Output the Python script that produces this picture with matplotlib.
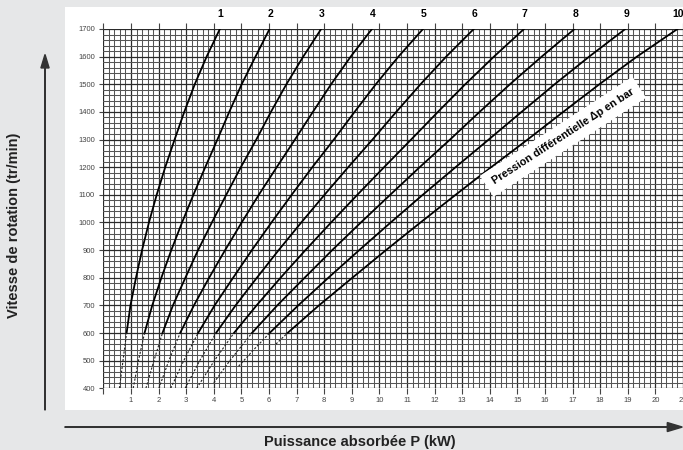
import numpy as np
import matplotlib.pyplot as plt
from matplotlib.patches import Rectangle, FancyArrow

plt.rcParams['font.family'] = ['Liberation Sans', 'DejaVu Sans']

# differential pressure of each curve (bar)
dp_labels = ["1", "2", "3", "4", "5", "6", "7", "8", "9", "10"]

# solid part of the curves: speed (tr/min) -> power (kW)
rpm_solid = [600, 700, 800, 900, 1000, 1100, 1200, 1300, 1400, 1500, 1600, 1700]
kw_1 = [0.84, 0.98, 1.18, 1.40, 1.65, 1.93, 2.24, 2.58, 2.93, 3.31, 3.74, 4.22]
kw_2 = [1.49, 1.77, 2.10, 2.46, 2.85, 3.26, 3.69, 4.13, 4.56, 5.01, 5.51, 6.02]
kw_3 = [2.14, 2.52, 2.97, 3.43, 3.93, 4.45, 4.98, 5.54, 6.07, 6.63, 7.24, 7.89]
kw_4 = [2.78, 3.28, 3.83, 4.41, 5.01, 5.63, 6.28, 6.94, 7.59, 8.25, 8.96, 9.73]
kw_5 = [3.43, 4.03, 4.70, 5.38, 6.09, 6.82, 7.57, 8.35, 9.10, 9.87, 10.69, 11.58]
kw_6 = [4.08, 4.79, 5.56, 6.35, 7.17, 8.01, 8.87, 9.75, 10.61, 11.49, 12.42, 13.42]
kw_7 = [4.73, 5.55, 6.42, 7.32, 8.25, 9.20, 10.17, 11.15, 12.12, 13.11, 14.15, 15.24]
kw_8 = [5.38, 6.30, 7.29, 8.29, 9.33, 10.39, 11.46, 12.56, 13.63, 14.73, 15.88, 17.07]
kw_9 = [6.02, 7.06, 8.15, 9.27, 10.41, 11.57, 12.76, 13.96, 15.15, 16.35, 17.60, 18.91]
kw_10 = [6.67, 7.81, 9.02, 10.24, 11.49, 12.76, 14.05, 15.37, 16.66, 17.97, 19.33, 20.80]
solid_kw = [kw_1, kw_2, kw_3, kw_4, kw_5, kw_6, kw_7, kw_8, kw_9, kw_10]

# dashed low-speed part of the curves
dash_rpm = [[400, 500, 600], [400, 500, 600], [400, 500, 600], [400, 500, 600],
            [400, 500, 600], [400, 500, 600], [400, 500, 600], [420, 500, 600],
            [480, 540, 600], [560, 600]]
dash_kw = [[0.58, 0.71, 0.84], [1.08, 1.27, 1.49], [1.54, 1.83, 2.14],
           [2.01, 2.37, 2.78], [2.44, 2.91, 3.43], [2.96, 3.49, 4.08],
           [3.38, 4.02, 4.73], [4.00, 4.58, 5.38], [4.90, 5.45, 6.02],
           [6.25, 6.67]]

x_ticks = list(range(0, 22))
y_ticks = list(range(400, 1701, 100))

fig = plt.figure(figsize=(6.83, 4.5), dpi=100)
fig.patch.set_facecolor('#e6e7e8')
fig.patches.append(Rectangle((0.0952, 0.0889), 0.91, 0.8956, transform=fig.transFigure,
                             facecolor='white', edgecolor='none', zorder=-5))

ax = fig.add_axes([0.1514, 0.1371, 0.8486, 0.7985])
ax.set_facecolor('white')
ax.set_xlim(0, 21)
ax.set_ylim(400, 1700)

# paper grid
ax.set_xticks(x_ticks)
ax.set_xticks(np.arange(0, 21.01, 0.2), minor=True)
ax.set_yticks(y_ticks)
ax.set_yticks(np.arange(400, 1701, 20), minor=True)
ax.grid(which='minor', color='#555555', lw=0.75)
ax.grid(which='major', color='#2a2a2a', lw=0.9)
ax.set_axisbelow(True)
for s in ax.spines.values():
    s.set_visible(False)

ax.set_xticklabels([""] + [str(v) for v in x_ticks[1:]])
ax.tick_params(axis='x', which='major', length=4.5, width=0.8, color='#444444',
               labelsize=5.5, labelcolor='#444444', pad=1.5, top=True)
ax.tick_params(axis='y', which='major', length=3, width=0.8, color='#444444',
               labelsize=5.5, labelcolor='#444444', pad=3)
ax.tick_params(which='minor', length=0)

for i in range(len(dp_labels)):
    ax.plot(solid_kw[i], rpm_solid, color='black', lw=1.3, zorder=3)
    ax.plot(dash_kw[i], dash_rpm[i], color='#222222', lw=0.8,
            linestyle=(0, (2, 1.5)), zorder=3)
    ax.annotate(dp_labels[i], (solid_kw[i][-1], rpm_solid[-1]), xytext=(0.5, 11),
                textcoords='offset points', ha='center', va='center',
                fontsize=7.5, fontweight='bold', annotation_clip=False)

ax.text(16.65, 1310, "Pression différentielle Δp en bar", rotation=33,
        ha='center', va='center', fontsize=7.8, fontweight='bold', zorder=4,
        rotation_mode='anchor',
        bbox=dict(boxstyle='square,pad=0.7', facecolor='white', edgecolor='none'))

# axis arrows and titles
fig.patches.append(FancyArrow(
    0.0659, 0.089, 0, 0.79, width=0.0008, head_width=0.012, head_length=0.03,
    length_includes_head=True, color='#333333', transform=fig.transFigure))
fig.patches.append(FancyArrow(
    0.095, 0.051, 0.904, 0, width=0.0012, head_width=0.02, head_length=0.022,
    length_includes_head=True, color='#333333', transform=fig.transFigure))

fig.text(0.0205, 0.5, "Vitesse de rotation (tr/min)", rotation=90, ha='center',
         va='center', fontsize=10.5, fontweight='bold', color='#222222')
fig.text(0.527, 0.018, "Puissance absorbée P (kW)", ha='center', va='center',
         fontsize=10.5, fontweight='bold', color='#222222')

fig.savefig("out.png", dpi=100, facecolor=fig.get_facecolor())
